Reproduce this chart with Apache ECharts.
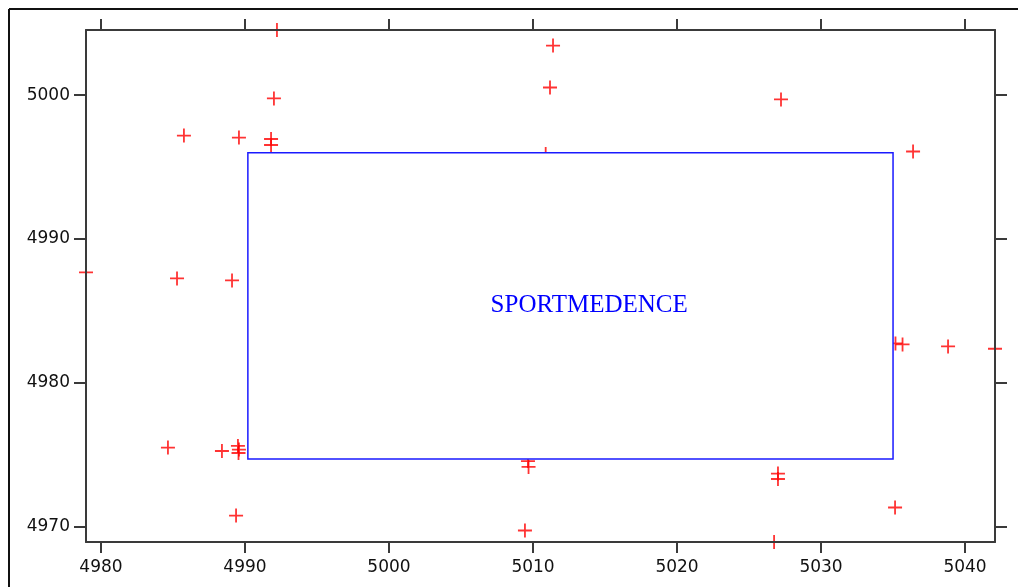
<!DOCTYPE html>
<html lang="en">
<head>
    <meta charset="UTF-8">
    <title>SPORTMEDENCE</title>
    <script src="https://cdn.jsdelivr.net/npm/echarts@6/dist/echarts.min.js"></script>
    <style>
        html, body { margin: 0; padding: 0; background: #fff; }
    </style>
</head>
<body>
    <div id="main" style="width: 1018px;height: 587px;"></div>

    <script type="text/javascript">
        // points (x, y)
        var pointsX = [4992.22, 4992.01, 4985.76, 4989.58, 4991.81, 4991.81, 5011.39, 5011.18, 5010.88, 5027.22,
                       5036.39, 4978.96, 4985.28, 4989.10, 5035.17, 5035.66, 5038.82, 5042.08, 4984.65, 4988.40,
                       4989.51, 4989.58, 4989.55, 4989.38, 5009.65, 5009.69, 5009.44, 5027.01, 5027.01, 5035.14,
                       5026.74];
        var pointsY = [5004.53, 4999.77, 4997.19, 4997.05, 4996.95, 4996.53, 5003.45, 5000.53, 4995.90, 4999.70,
                       4996.08, 4987.67, 4987.25, 4987.11, 4982.73, 4982.66, 4982.52, 4982.36, 4975.49, 4975.25,
                       4975.60, 4975.35, 4975.11, 4970.76, 4974.55, 4974.14, 4969.72, 4973.68, 4973.30, 4971.32,
                       4968.92];

        // the box and its label
        var boxX = [4990.2, 5035.0];
        var boxY = [4974.7, 4996.0];
        var boxLabel = 'SPORTMEDENCE';
        var labelPos = [5013.9, 4985.37];

        var xTicks = [4980, 4990, 5000, 5010, 5020, 5030, 5040];
        var yTicks = [4970, 4980, 4990, 5000];

        var pts = [];
        for (var i = 0; i < pointsX.length; i++) {
            pts.push([pointsX[i], pointsY[i]]);
        }
        var xMin = Math.min.apply(null, pointsX), xMax = Math.max.apply(null, pointsX);
        var yMin = Math.min.apply(null, pointsY), yMax = Math.max.apply(null, pointsY);

        var axisLine = { show: true, onZero: false, lineStyle: { color: '#3a3a3a', width: 2 } };
        var labelFont = {
            color: '#111', fontFamily: 'DejaVu Sans', fontSize: 17,
            formatter: function (v) { return String(v); }
        };

        function xAxisDef(pos, showLabel) {
            return {
                type: 'value', position: pos, min: xMin, max: xMax, z: 5,
                axisLine: axisLine,
                axisTick: { show: true, length: 11, customValues: xTicks, lineStyle: { color: '#3a3a3a', width: 2 } },
                axisLabel: Object.assign({ show: showLabel, margin: 17, customValues: xTicks }, labelFont),
                splitLine: { show: false }
            };
        }
        function yAxisDef(pos, showLabel) {
            return {
                type: 'value', position: pos, min: yMin, max: yMax, z: 5,
                axisLine: axisLine,
                axisTick: { show: true, length: 12, customValues: yTicks, lineStyle: { color: '#3a3a3a', width: 2 } },
                axisLabel: Object.assign({ show: showLabel, margin: 16, customValues: yTicks }, labelFont),
                splitLine: { show: false }
            };
        }

        var myChart = echarts.init(document.getElementById('main'));
        var option = {
            backgroundColor: '#fff',
            animation: false,
            grid: { left: 86, top: 30, right: 23, bottom: 45 },
            xAxis: [xAxisDef('bottom', true), xAxisDef('top', false)],
            yAxis: [yAxisDef('left', true), yAxisDef('right', false)],
            graphic: [
                { type: 'line', shape: { x1: 9, y1: 9, x2: 1018, y2: 9 }, style: { stroke: '#111', lineWidth: 2 } },
                { type: 'line', shape: { x1: 9, y1: 9, x2: 9, y2: 587 }, style: { stroke: '#111', lineWidth: 2 } }
            ],
            series: [
                {
                    type: 'scatter',
                    z: 2,
                    data: pts,
                    symbol: 'path://M0,7H14M7,0V14',
                    symbolSize: 14,
                    itemStyle: { color: 'transparent', borderColor: '#ff0000', borderWidth: 1.8 },
                    emphasis: { disabled: true },
                    silent: true
                },
                {
                    type: 'custom',
                    z: 3,
                    silent: true,
                    data: [[boxX[0], boxY[0], boxX[1], boxY[1]]],
                    renderItem: function (params, api) {
                        var p0 = api.coord([api.value(0), api.value(3)]);
                        var p1 = api.coord([api.value(2), api.value(1)]);
                        var t = api.coord(labelPos);
                        return {
                            type: 'group',
                            children: [
                                {
                                    type: 'rect',
                                    shape: { x: p0[0], y: p0[1], width: p1[0] - p0[0], height: p1[1] - p0[1] },
                                    style: { fill: '#fff', stroke: '#1a1aff', lineWidth: 1.5 }
                                },
                                {
                                    type: 'text',
                                    x: t[0], y: t[1],
                                    style: {
                                        text: boxLabel, fill: '#0000ff',
                                        font: '25px "Liberation Serif"',
                                        align: 'center', verticalAlign: 'middle'
                                    }
                                }
                            ]
                        };
                    }
                }
            ]
        };
        myChart.setOption(option);
    </script>
</body>
</html>
